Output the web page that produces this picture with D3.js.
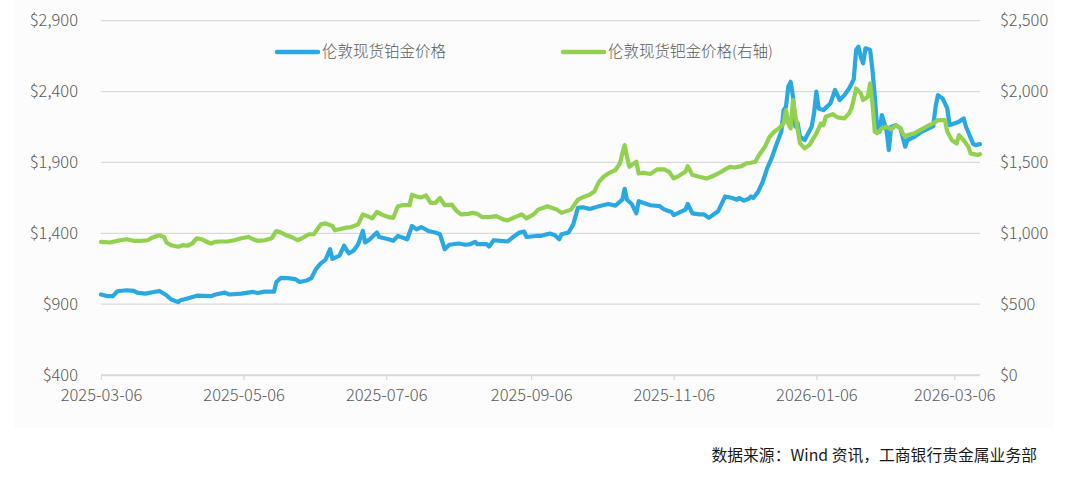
<!DOCTYPE html>
<html><head><meta charset="utf-8">
<script src="https://cdn.jsdelivr.net/npm/d3@7/dist/d3.min.js"></script>
<style>
html,body{margin:0;padding:0;background:#fff;}
svg text{font-family:"Noto Sans CJK SC","Noto Sans",sans-serif;}
</style></head>
<body><svg id="c" width="1080" height="478"></svg>
<script>
const platinumDates = ["2025-03-06","2025-03-09","2025-03-11","2025-03-13","2025-03-17","2025-03-20","2025-03-22","2025-03-25","2025-03-28","2025-03-31","2025-04-03","2025-04-05","2025-04-08","2025-04-09","2025-04-12","2025-04-16","2025-04-22","2025-04-24","2025-04-28","2025-04-30","2025-05-05","2025-05-10","2025-05-12","2025-05-15","2025-05-19","2025-05-20","2025-05-22","2025-05-25","2025-05-28","2025-05-30","2025-06-02","2025-06-04","2025-06-06","2025-06-08","2025-06-10","2025-06-12","2025-06-13","2025-06-16","2025-06-18","2025-06-20","2025-06-22","2025-06-24","2025-06-26","2025-06-27","2025-06-29","2025-07-02","2025-07-03","2025-07-07","2025-07-09","2025-07-11","2025-07-15","2025-07-17","2025-07-19","2025-07-21","2025-07-24","2025-07-27","2025-07-29","2025-07-31","2025-08-02","2025-08-06","2025-08-09","2025-08-11","2025-08-13","2025-08-14","2025-08-18","2025-08-19","2025-08-21","2025-08-24","2025-08-27","2025-08-29","2025-09-01","2025-09-03","2025-09-04","2025-09-08","2025-09-10","2025-09-14","2025-09-16","2025-09-18","2025-09-19","2025-09-22","2025-09-24","2025-09-26","2025-09-28","2025-10-01","2025-10-05","2025-10-09","2025-10-12","2025-10-15","2025-10-16","2025-10-17","2025-10-19","2025-10-21","2025-10-22","2025-10-27","2025-10-31","2025-11-02","2025-11-05","2025-11-06","2025-11-08","2025-11-11","2025-11-12","2025-11-14","2025-11-17","2025-11-19","2025-11-21","2025-11-23","2025-11-25","2025-11-28","2025-12-01","2025-12-03","2025-12-04","2025-12-06","2025-12-08","2025-12-09","2025-12-10","2025-12-12","2025-12-14","2025-12-16","2025-12-18","2025-12-20","2025-12-22","2025-12-23","2025-12-24","2025-12-25","2025-12-26","2025-12-27","2025-12-28","2025-12-29","2025-12-30","2026-01-01","2026-01-04","2026-01-05","2026-01-06","2026-01-07","2026-01-09","2026-01-12","2026-01-14","2026-01-16","2026-01-18","2026-01-20","2026-01-22","2026-01-23","2026-01-24","2026-01-25","2026-01-26","2026-01-27","2026-01-29","2026-01-30","2026-01-31","2026-02-01","2026-02-02","2026-02-03","2026-02-05","2026-02-06","2026-02-07","2026-02-09","2026-02-10","2026-02-11","2026-02-13","2026-02-14","2026-02-17","2026-02-20","2026-02-25","2026-02-26","2026-02-27","2026-03-01","2026-03-03","2026-03-04","2026-03-06","2026-03-08","2026-03-10","2026-03-11","2026-03-14","2026-03-15","2026-03-17"];
const platinumValues = [968,956,956,991,998,993,979,974,984,993,963,933,914,928,940,960,956,968,981,968,974,986,979,988,988,1056,1086,1084,1077,1056,1067,1084,1149,1188,1212,1288,1219,1242,1312,1258,1277,1323,1416,1335,1358,1405,1374,1358,1347,1381,1358,1451,1428,1444,1416,1405,1393,1288,1319,1328,1319,1323,1340,1323,1323,1307,1351,1347,1342,1370,1405,1412,1374,1381,1381,1398,1388,1358,1393,1405,1463,1579,1584,1572,1591,1607,1595,1637,1714,1637,1607,1540,1626,1598,1591,1567,1551,1528,1544,1567,1607,1540,1533,1533,1509,1533,1556,1660,1649,1637,1649,1630,1644,1660,1649,1690,1760,1860,1935,2030,2116,2269,2293,2434,2469,2364,2152,2175,2081,2058,2152,2246,2399,2281,2269,2316,2411,2340,2375,2422,2486,2693,2716,2646,2599,2705,2693,2552,2364,2152,2116,2234,2128,1987,2152,2163,2152,2140,2011,2058,2081,2116,2156,2293,2375,2352,2281,2163,2175,2187,2211,2152,2034,2022,2029];

const palladiumDates = ["2025-03-06","2025-03-10","2025-03-14","2025-03-17","2025-03-20","2025-03-23","2025-03-26","2025-03-28","2025-03-31","2025-04-02","2025-04-03","2025-04-05","2025-04-08","2025-04-10","2025-04-12","2025-04-14","2025-04-16","2025-04-18","2025-04-20","2025-04-22","2025-04-24","2025-04-26","2025-04-29","2025-05-02","2025-05-05","2025-05-08","2025-05-10","2025-05-12","2025-05-15","2025-05-18","2025-05-20","2025-05-22","2025-05-24","2025-05-27","2025-05-29","2025-05-31","2025-06-03","2025-06-05","2025-06-06","2025-06-08","2025-06-10","2025-06-13","2025-06-14","2025-06-16","2025-06-19","2025-06-21","2025-06-24","2025-06-26","2025-06-28","2025-06-30","2025-07-02","2025-07-04","2025-07-07","2025-07-09","2025-07-11","2025-07-13","2025-07-16","2025-07-17","2025-07-19","2025-07-21","2025-07-23","2025-07-25","2025-07-27","2025-07-29","2025-07-31","2025-08-03","2025-08-05","2025-08-07","2025-08-10","2025-08-12","2025-08-14","2025-08-16","2025-08-19","2025-08-22","2025-08-25","2025-08-27","2025-08-30","2025-09-02","2025-09-04","2025-09-07","2025-09-09","2025-09-13","2025-09-17","2025-09-19","2025-09-23","2025-09-26","2025-09-29","2025-10-01","2025-10-03","2025-10-05","2025-10-07","2025-10-09","2025-10-12","2025-10-14","2025-10-15","2025-10-16","2025-10-17","2025-10-18","2025-10-20","2025-10-21","2025-10-22","2025-10-24","2025-10-27","2025-10-30","2025-11-02","2025-11-04","2025-11-06","2025-11-08","2025-11-11","2025-11-12","2025-11-14","2025-11-17","2025-11-20","2025-11-22","2025-11-25","2025-11-28","2025-11-30","2025-12-02","2025-12-05","2025-12-07","2025-12-09","2025-12-11","2025-12-12","2025-12-15","2025-12-17","2025-12-19","2025-12-21","2025-12-23","2025-12-24","2025-12-25","2025-12-26","2025-12-27","2025-12-28","2025-12-30","2026-01-01","2026-01-03","2026-01-06","2026-01-08","2026-01-09","2026-01-10","2026-01-13","2026-01-15","2026-01-18","2026-01-20","2026-01-21","2026-01-22","2026-01-23","2026-01-25","2026-01-26","2026-01-28","2026-01-29","2026-01-30","2026-01-31","2026-02-01","2026-02-03","2026-02-05","2026-02-07","2026-02-09","2026-02-11","2026-02-12","2026-02-13","2026-02-14","2026-02-17","2026-02-19","2026-02-22","2026-02-25","2026-02-27","2026-03-02","2026-03-03","2026-03-05","2026-03-07","2026-03-08","2026-03-10","2026-03-12","2026-03-13","2026-03-16","2026-03-17"];
const palladiumValues = [940,935,951,958,947,947,951,970,986,974,935,916,905,916,912,928,965,958,942,928,940,942,942,951,965,974,958,947,951,965,1016,1005,988,970,951,965,993,993,1016,1063,1070,1051,1021,1028,1040,1044,1063,1133,1121,1105,1151,1133,1114,1109,1191,1198,1198,1272,1260,1253,1267,1214,1214,1249,1198,1202,1160,1133,1137,1144,1137,1114,1114,1121,1098,1091,1114,1133,1105,1133,1167,1191,1167,1144,1167,1237,1260,1272,1295,1363,1399,1422,1446,1493,1564,1622,1540,1469,1493,1505,1422,1427,1418,1451,1451,1434,1387,1404,1434,1474,1411,1399,1387,1399,1422,1451,1469,1464,1474,1493,1498,1505,1540,1611,1681,1716,1740,1775,1869,1775,1740,1940,1834,1634,1599,1622,1705,1775,1763,1822,1841,1818,1811,1846,1881,1945,2022,1987,1940,1964,2058,1916,1716,1705,1740,1752,1733,1763,1740,1705,1681,1693,1705,1724,1752,1775,1799,1799,1716,1657,1634,1693,1657,1611,1564,1552,1559];

const leftTicks = [400, 900, 1400, 1900, 2400, 2900];
const rightTicks = [0, 500, 1000, 1500, 2000, 2500];
const xTickLabels = ["2025-03-06","2025-05-06","2025-07-06","2025-09-06","2025-11-06","2026-01-06","2026-03-06"];
const seriesNames = ["伦敦现货铂金价格", "伦敦现货钯金价格(右轴)"];
const sourceText = "数据来源：Wind 资讯，工商银行贵金属业务部";

const parse = d3.timeParse("%Y-%m-%d");
const svg = d3.select("#c");
svg.append("rect").attr("width",1080).attr("height",478).attr("fill","#fff");
svg.append("rect").attr("x",14).attr("y",0).attr("width",1040).attr("height",428).attr("fill","#fcfcfc");

const plotLeft = 101, plotRight = 980, plotTop = 20.7, plotBottom = 375;
const x = d3.scaleTime().domain([parse("2025-03-06"), parse("2026-03-17")]).range([plotLeft, plotRight]);
const yL = d3.scaleLinear().domain([400, 2900]).range([plotBottom, plotTop]);
const yR = d3.scaleLinear().domain([0, 2500]).range([plotBottom, plotTop]);

const gridColor = "#d9d9d9", labelColor = "#595959";

// grid
svg.append("g").selectAll("line").data(leftTicks).join("line")
  .attr("x1", plotLeft).attr("x2", plotRight)
  .attr("y1", d => yL(d)).attr("y2", d => yL(d))
  .attr("stroke", gridColor).attr("stroke-width", 1.3);

// left axis
const gL = svg.append("g").attr("transform", `translate(${plotLeft - 23},0)`)
  .call(d3.axisLeft(yL).tickValues(leftTicks).tickSize(0).tickPadding(0).tickFormat(d => "$" + d3.format(",")(d)));
gL.select(".domain").remove();
gL.selectAll("text").attr("fill", labelColor).attr("font-size", 16.5).attr("font-weight", 300);

// right axis
const gR = svg.append("g").attr("transform", `translate(${plotRight + 20},0)`)
  .call(d3.axisRight(yR).tickValues(rightTicks).tickSize(0).tickPadding(0).tickFormat(d => "$" + d3.format(",")(d)));
gR.select(".domain").remove();
gR.selectAll("text").attr("fill", labelColor).attr("font-size", 16.5).attr("font-weight", 300);

// x axis
const gX = svg.append("g").attr("transform", `translate(0,${plotBottom})`)
  .call(d3.axisBottom(x).tickValues(xTickLabels.map(parse)).tickSize(5).tickPadding(9).tickFormat(d3.timeFormat("%Y-%m-%d")));
gX.select(".domain").attr("stroke", gridColor).attr("stroke-width", 1.3).attr("d", `M${plotLeft},0.5H${plotRight}`);
gX.selectAll(".tick line").attr("stroke", gridColor).attr("stroke-width", 1.3);
gX.selectAll("text").attr("fill", labelColor).attr("font-size", 16.5).attr("font-weight", 300);

// lines
const plat = platinumDates.map((d, i) => ({date: parse(d), v: platinumValues[i]}));
const pall = palladiumDates.map((d, i) => ({date: parse(d), v: palladiumValues[i]}));
const blue = "#2aa8e2", green = "#92d050";
svg.append("path").datum(plat)
  .attr("d", d3.line().x(d => x(d.date)).y(d => yL(d.v)))
  .attr("fill", "none").attr("stroke", blue).attr("stroke-width", 4.2).attr("stroke-linejoin", "round").attr("stroke-linecap", "round");
svg.append("path").datum(pall)
  .attr("d", d3.line().x(d => x(d.date)).y(d => yR(d.v)))
  .attr("fill", "none").attr("stroke", green).attr("stroke-width", 4.2).attr("stroke-linejoin", "round").attr("stroke-linecap", "round");

// legend
const legend = [{name: seriesNames[0], color: blue, x: 277}, {name: seriesNames[1], color: green, x: 563}];
const lg = svg.append("g");
legend.forEach(l => {
  lg.append("line").attr("x1", l.x).attr("x2", l.x + 41).attr("y1", 52).attr("y2", 52)
    .attr("stroke", l.color).attr("stroke-width", 4.5).attr("stroke-linecap", "round");
  lg.append("text").attr("x", l.x + 45).attr("y", 52).attr("dy", "0.35em")
    .attr("fill", labelColor).attr("font-size", 15.5).attr("font-weight", 300).text(l.name);
});

// source
svg.append("text").attr("x", 1037).attr("y", 455).attr("dy", "0.35em").attr("text-anchor", "end")
  .attr("fill", "#1a1a1a").attr("font-size", 15.8).text(sourceText);
</script></body></html>
